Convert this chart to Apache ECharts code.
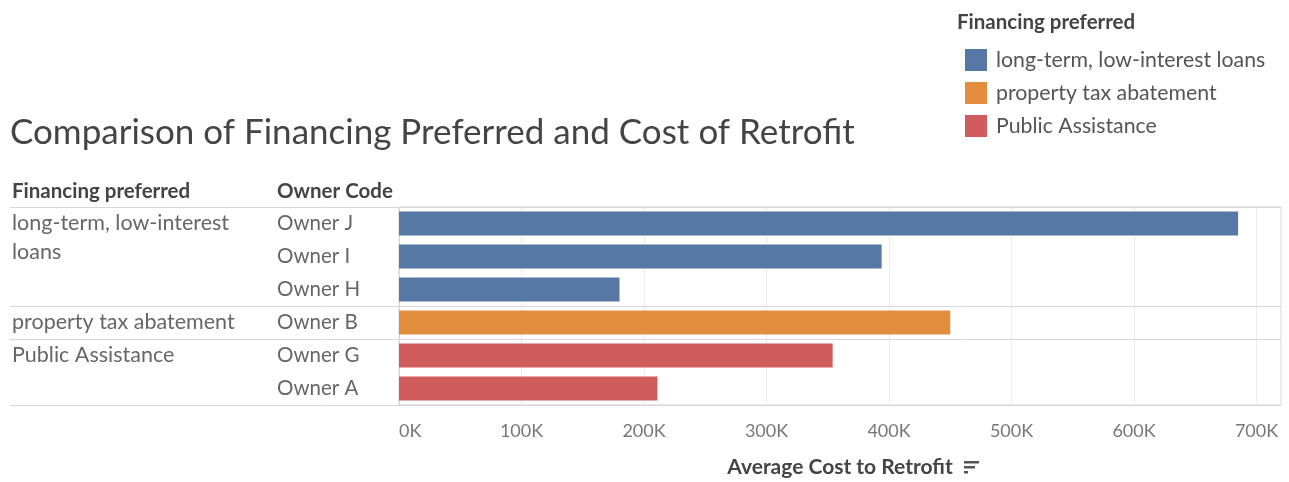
<!DOCTYPE html>
<html>
<head>
<meta charset="utf-8">
<title>Comparison of Financing Preferred and Cost of Retrofit</title>
<script src="https://cdn.jsdelivr.net/npm/echarts@6/dist/echarts.min.js"></script>
<style>
  html, body { margin: 0; padding: 0; background: #fff; }
  #chart { width: 1289px; height: 482px; }
</style>
</head>
<body>
<div id="chart"></div>
<script>
// Rows of the table, top to bottom
const owners = ['Owner J', 'Owner I', 'Owner H', 'Owner B', 'Owner G', 'Owner A'];
// Financing group of each owner (index into financingTypes)
const ownerFinancing = [0, 0, 0, 1, 2, 2];
const financingTypes = ['long-term, low-interest loans', 'property tax abatement', 'Public Assistance'];
// Average cost to retrofit per owner
const avgCost = [685000, 394000, 180000, 450000, 354000, 211000];
const financingColors = ['#5778a4', '#e38e3f', '#d05c5e'];

const FONT = 'Lato, "Open Sans", sans-serif';
const chart = echarts.init(document.getElementById('chart'), null, { renderer: 'canvas' });

const series = financingTypes.map((name, g) => ({
  name: name,
  type: 'bar',
  stack: 'rows',
  barWidth: 24,
  itemStyle: { color: financingColors[g] },
  data: avgCost.map((v, i) => (ownerFinancing[i] === g ? v : null))
}));

chart.setOption({
  animation: false,
  textStyle: { fontFamily: FONT },
  grid: {
    left: 399, right: 8, top: 207, bottom: 77,
    show: true, borderColor: '#d6d6d6', borderWidth: 1
  },
  legend: {
    orient: 'vertical',
    left: 960, top: 44,
    itemWidth: 22, itemHeight: 22, itemGap: 11,
    icon: 'rect',
    data: financingTypes,
    textStyle: { fontFamily: FONT, fontSize: 21.3, color: '#555', padding: [0, 0, 0, 4] }
  },
  xAxis: {
    type: 'value',
    min: 0, max: 720000, interval: 100000,
    name: 'Average Cost to Retrofit',
    nameLocation: 'middle',
    nameGap: 52,
    nameTextStyle: { fontFamily: FONT, fontSize: 21, fontWeight: 'bold', color: '#444' },
    axisLine: { show: false },
    axisTick: { show: false },
    axisLabel: {
      margin: 17, fontSize: 18, color: '#777', fontFamily: FONT,
      showMaxLabel: false,
      alignMinLabel: 'left',
      formatter: v => (v / 1000) + 'K'
    },
    splitLine: { show: true, lineStyle: { color: '#ececec', width: 1 } }
  },
  yAxis: {
    type: 'category',
    data: owners,
    inverse: true,
    axisLine: { show: true, lineStyle: { color: '#d6d6d6' } },
    axisTick: { show: false },
    axisLabel: {
      margin: 122, align: 'left', fontSize: 20.5, color: '#666', fontFamily: FONT
    },
    splitLine: { show: false }
  },
  series: series
});

// Table column: financing group labels and the separators between groups
const rowY = owners.map(o => chart.convertToPixel({ yAxisIndex: 0 }, o));
const rowStep = rowY[1] - rowY[0];
const gridRight = 1289 - 8;
const graphics = [
  {
    type: 'text', x: 10, y: 133,
    style: { text: 'Comparison of Financing Preferred and Cost of Retrofit',
             font: '35px ' + FONT, fill: '#444', verticalAlign: 'middle' }
  },
  {
    type: 'text', x: 957, y: 22,
    style: { text: 'Financing preferred', font: 'bold 20.5px ' + FONT, fill: '#444',
             verticalAlign: 'middle' }
  },
  {
    type: 'text', x: 12, y: 191,
    style: { text: 'Financing preferred', font: 'bold 20.5px ' + FONT, fill: '#444',
             verticalAlign: 'middle' }
  },
  {
    type: 'text', x: 277, y: 191,
    style: { text: 'Owner Code', font: 'bold 20.5px ' + FONT, fill: '#444',
             verticalAlign: 'middle' }
  }
];

const lineStyle = { stroke: '#d6d6d6', lineWidth: 1 };
const topY = Math.round(rowY[0] - rowStep / 2) + 0.5;
const bottomY = Math.round(rowY[rowY.length - 1] + rowStep / 2) + 0.5;
graphics.push({ type: 'line', shape: { x1: 10, y1: topY, x2: gridRight, y2: topY }, style: lineStyle });
graphics.push({ type: 'line', shape: { x1: 10, y1: bottomY, x2: gridRight, y2: bottomY }, style: lineStyle });

financingTypes.forEach((name, g) => {
  const first = ownerFinancing.indexOf(g);
  const lastIdx = ownerFinancing.lastIndexOf(g);
  graphics.push({
    type: 'text', x: 12, y: rowY[first] - 14.5,
    style: {
      text: name, font: '21.5px ' + FONT, fill: '#666',
      width: 250, overflow: 'break', lineHeight: 29, verticalAlign: 'top'
    }
  });
  if (lastIdx < owners.length - 1) {
    const y = Math.round(rowY[lastIdx] + rowStep / 2) + 0.5;
    graphics.push({ type: 'line', shape: { x1: 10, y1: y, x2: gridRight, y2: y }, style: lineStyle });
  }
});

// Sort indicator beside the axis title
const sortX = 964, sortY = 461;
[15, 11, 4].forEach((w, k) => {
  graphics.push({
    type: 'rect', shape: { x: sortX, y: sortY + k * 5, width: w, height: 2.5 },
    style: { fill: '#555' }
  });
});

chart.setOption({ graphic: graphics });
</script>
</body>
</html>
